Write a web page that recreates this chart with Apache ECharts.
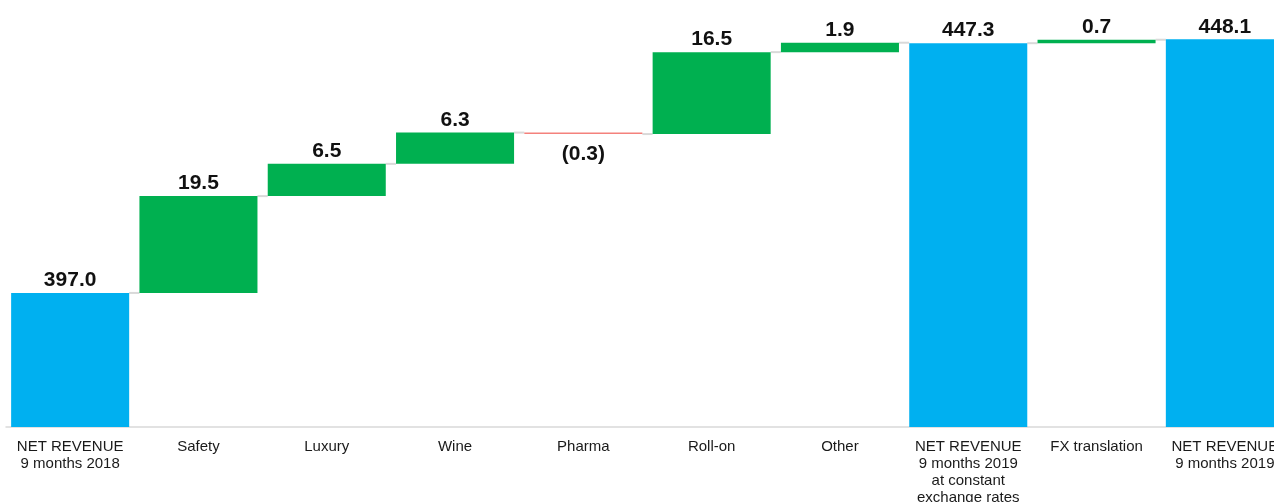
<!DOCTYPE html>
<html>
<head>
<meta charset="utf-8">
<script src="https://cdn.jsdelivr.net/npm/echarts@6/dist/echarts.min.js"></script>
<style>
html,body{margin:0;padding:0;background:#fff;}
#chart{width:1274px;height:502px;}
</style>
</head>
<body>
<div id="chart"></div>
<script>
var categories = ['NET REVENUE\n9 months 2018','Safety','Luxury','Wine','Pharma','Roll-on','Other','NET REVENUE\n9 months 2019\nat constant\nexchange rates','FX translation','NET REVENUE\n9 months 2019'];
var values = [397.0, 19.5, 6.5, 6.3, -0.3, 16.5, 1.9, 447.3, 0.7, 448.1];
var isTotal = [true, false, false, false, false, false, false, true, false, true];

var helper = [], pos = [], neg = [], tot = [], levels = [];
var running = 0;
for (var i = 0; i < values.length; i++) {
  var v = values[i];
  if (isTotal[i]) {
    helper.push(0); tot.push(v); pos.push('-'); neg.push('-');
    running = v;
  } else if (v >= 0) {
    helper.push(running); pos.push(v); neg.push('-'); tot.push('-');
    running = running + v;
  } else {
    helper.push(running + v); neg.push(-v); pos.push('-'); tot.push('-');
    running = running + v;
  }
  levels.push(running);
}
var connectors = [];
for (var j = 0; j < levels.length - 1; j++) connectors.push([j, levels[j]]);

var BAR_FRAC = 0.92;
var labelStyle = {fontFamily:'Liberation Sans, Arial, sans-serif', fontWeight:'bold', fontSize:21, color:'#111'};

var chart = echarts.init(document.getElementById('chart'), null, {renderer:'canvas'});
chart.setOption({
  animation:false,
  grid:{left:6, width:1283, top:0, bottom:75, containLabel:false, outerBoundsMode:'none'},
  xAxis:{
    type:'category', data:categories,
    axisLine:{lineStyle:{color:'#d9d9d9', width:1.5}},
    axisTick:{show:false},
    axisLabel:{interval:0, margin:11, fontFamily:'Liberation Sans, Arial, sans-serif', fontSize:15, lineHeight:17, color:'#1a1a1a'}
  },
  yAxis:{type:'value', min:370, max:456, show:false, splitLine:{show:false}},
  series:[
    {type:'bar', stack:'w', data:helper, barWidth:'92%', itemStyle:{color:'transparent'}, silent:true},
    {type:'bar', stack:'w', data:pos, barWidth:'92%', itemStyle:{color:'#00b050'},
      label:{show:true, position:'top', distance:2, formatter:function(p){return p.value.toFixed(1);}, ...labelStyle}},
    {type:'bar', stack:'w', data:neg, barWidth:'92%', itemStyle:{color:'#f4817c'},
      label:{show:true, position:'bottom', distance:10, formatter:function(p){return '(' + p.value.toFixed(1) + ')';}, ...labelStyle}},
    {type:'bar', stack:'w', data:tot, barWidth:'92%', itemStyle:{color:'#00b0f0'},
      label:{show:true, position:'top', distance:2, formatter:function(p){return p.value.toFixed(1);}, ...labelStyle}},
    {type:'custom', data:connectors, z:1,
      renderItem:function(params, api){
        var p = api.coord([api.value(0), api.value(1)]);
        var bw = api.size([1,0])[0];
        var half = bw * BAR_FRAC / 2;
        return {type:'line', shape:{x1:p[0]+half, y1:p[1], x2:p[0]+bw-half, y2:p[1]},
          style:{stroke:'#d9d9d9', lineWidth:2}};
      }}
  ]
});
</script>
</body>
</html>
